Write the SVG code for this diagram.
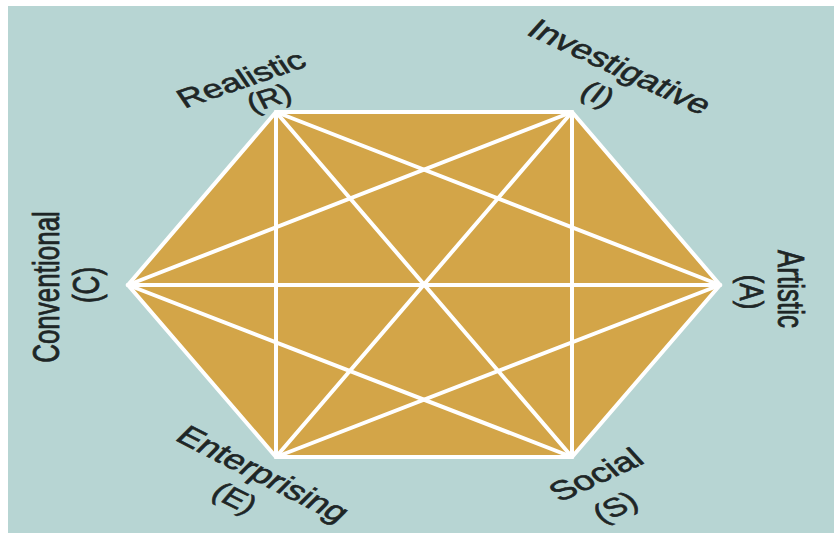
<svg xmlns="http://www.w3.org/2000/svg" width="834" height="533" viewBox="0 0 834 533">
<style>
.lbl{font-family:"Liberation Sans",Arial,sans-serif;font-size:26px;fill:#1e2626;stroke:#1e2626;stroke-width:0.6;text-anchor:middle}
.edge{stroke:#ffffff;stroke-width:4;fill:none;stroke-linecap:round}
</style>
<rect x="0" y="0" width="834" height="533" fill="#ffffff"/>
<rect x="8" y="6" width="826" height="527" fill="#b7d5d3"/>
<g id="hexagon">
<polygon points="276,112 572,112 720,285 572,457 276,457 128,285" fill="#d3a548" stroke="#ffffff" stroke-width="4" stroke-linejoin="miter"/>
</g>
<g id="connectors">
<line class="edge" x1="276" y1="112" x2="720" y2="285"/>
<line class="edge" x1="276" y1="112" x2="572" y2="457"/>
<line class="edge" x1="276" y1="112" x2="276" y2="457"/>
<line class="edge" x1="572" y1="112" x2="572" y2="457"/>
<line class="edge" x1="572" y1="112" x2="276" y2="457"/>
<line class="edge" x1="572" y1="112" x2="128" y2="285"/>
<line class="edge" x1="720" y1="285" x2="276" y2="457"/>
<line class="edge" x1="720" y1="285" x2="128" y2="285"/>
<line class="edge" x1="572" y1="457" x2="128" y2="285"/>
</g>
<g id="node-R">
<g transform="translate(241,79) scale(1.4,1) rotate(-25.7)"><text class="lbl" x="0" y="9">Realistic</text></g>
<g transform="translate(269,98) scale(1.25,1) rotate(-22)"><text class="lbl" x="0" y="9">(R)</text></g>
</g>
<g id="node-I">
<g transform="translate(620,67) scale(1.4,1) rotate(33)"><text class="lbl" style="font-size:27px" x="0" y="9">Investigative</text></g>
<g transform="translate(598,94) scale(1.3,1) rotate(31)"><text class="lbl" x="0" y="9">(I)</text></g>
</g>
<g id="node-C">
<g transform="translate(46,287) scale(1.45,1) rotate(-90)"><text class="lbl" x="0" y="9">Conventional</text></g>
<g transform="translate(86,285) scale(1.4,1) rotate(-90)"><text class="lbl" x="0" y="9">(C)</text></g>
</g>
<g id="node-A">
<g transform="translate(791,289) scale(1.4,1) rotate(90)"><text class="lbl" x="0" y="9">Artistic</text></g>
<g transform="translate(752,292) scale(1.3,1) rotate(90)"><text class="lbl" x="0" y="9">(A)</text></g>
</g>
<g id="node-E">
<g transform="translate(263,474) scale(1.4,1) rotate(35.5)"><text class="lbl" style="font-size:27px" x="0" y="9">Enterprising</text></g>
<g transform="translate(235,498) scale(1.3,1) rotate(33)"><text class="lbl" x="0" y="9">(E)</text></g>
</g>
<g id="node-S">
<g transform="translate(596,475) scale(1.4,1) rotate(-33)"><text class="lbl" style="font-size:27px" x="0" y="9">Social</text></g>
<g transform="translate(615,507) scale(1.3,1) rotate(-31)"><text class="lbl" x="0" y="9">(S)</text></g>
</g>
</svg>
